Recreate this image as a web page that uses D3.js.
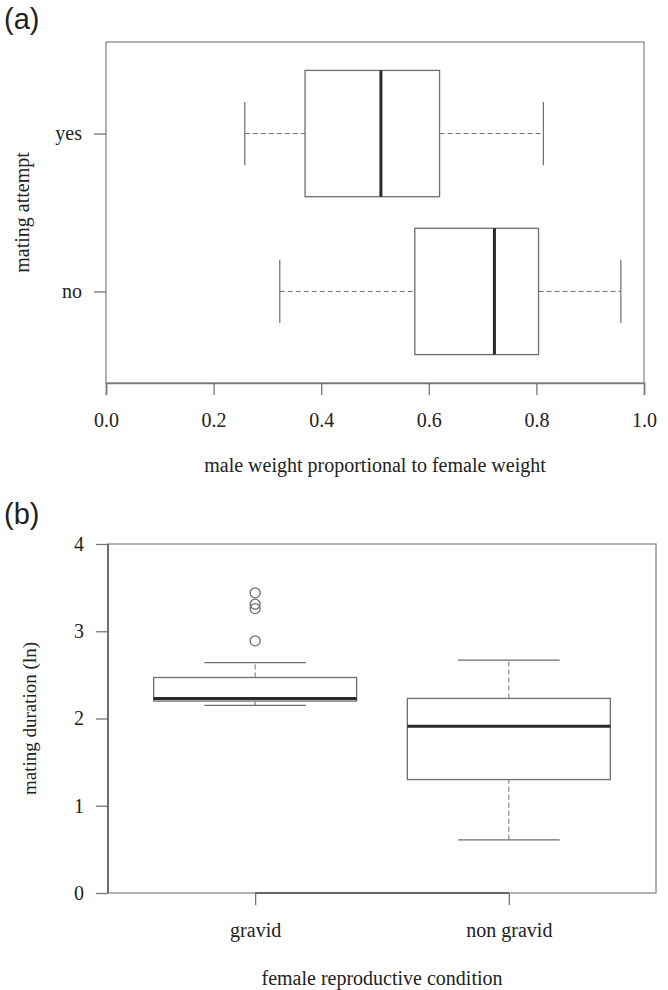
<!DOCTYPE html>
<html>
<head>
<meta charset="utf-8">
<script src="https://cdn.jsdelivr.net/npm/d3@7.9.0/dist/d3.min.js"></script>
<style>
  body { margin: 0; background: #fff; }
  svg text { font-family: "Liberation Serif", "DejaVu Serif", serif; fill: #222; }
  svg text.panel-tag { font-family: "Liberation Sans", Arial, sans-serif; }
</style>
</head>
<body>
<svg id="chart" width="668" height="990"></svg>
<script>
// ---- panel (a): mating attempt vs weight ratio ----
const attemptGroups = ["no", "yes"]; // position 1, 2 (bottom to top)
const attemptLow = [0.323, 0.258];
const attemptQ1 = [0.574, 0.37];
const attemptMedian = [0.722, 0.511];
const attemptQ3 = [0.804, 0.62];
const attemptHigh = [0.957, 0.813];
const weightTicks = [0, 0.2, 0.4, 0.6, 0.8, 1.0];

// ---- panel (b): mating duration vs female condition ----
const conditionGroups = ["gravid", "non gravid"];
const durationLow = [2.15, 0.61];
const durationQ1 = [2.20, 1.30];
const durationMedian = [2.23, 1.91];
const durationQ3 = [2.47, 2.23];
const durationHigh = [2.64, 2.67];
const gravidOutliers = [2.89, 3.26, 3.31, 3.44];
const durationTicks = [0, 1, 2, 3, 4];

const svg = d3.select("#chart");
const frameColor = "#8a8a8a";
const boxColor = "#6e6e6e";
const medianColor = "#2a2a2a";
const fs = 20;
const dash = "5,3";

// R style: groups sit at 1..n, axis padded 4% beyond 0.5..n+0.5
const groupDomain = [0.42, 2.58];

// ========= panel (a) =========
const a = { left: 106, right: 644, top: 42, bottom: 383 };
const xA = d3.scaleLinear().domain([0, 1]).range([a.left, a.right]);
const yA = d3.scaleLinear().domain(groupDomain).range([a.bottom, a.top]);
const gA = svg.append("g");

gA.append("rect")
  .attr("x", a.left).attr("y", a.top)
  .attr("width", a.right - a.left).attr("height", a.bottom - a.top)
  .attr("fill", "none").attr("stroke", frameColor).attr("stroke-width", 1.3);

attemptGroups.forEach((g, i) => {
  const yc = yA(i + 1);
  const half = yA(0) - yA(0.4);   // boxwex 0.8
  const staple = yA(0) - yA(0.2);
  // whiskers
  gA.append("line").attr("x1", xA(attemptLow[i])).attr("x2", xA(attemptQ1[i]))
    .attr("y1", yc).attr("y2", yc)
    .attr("stroke", boxColor).attr("stroke-dasharray", dash);
  gA.append("line").attr("x1", xA(attemptQ3[i])).attr("x2", xA(attemptHigh[i]))
    .attr("y1", yc).attr("y2", yc)
    .attr("stroke", boxColor).attr("stroke-dasharray", dash);
  [attemptLow[i], attemptHigh[i]].forEach((v) => {
    gA.append("line").attr("x1", xA(v)).attr("x2", xA(v))
      .attr("y1", yc - staple).attr("y2", yc + staple)
      .attr("stroke", boxColor).attr("stroke-width", 1.2);
  });
  gA.append("rect")
    .attr("x", xA(attemptQ1[i])).attr("y", yc - half)
    .attr("width", xA(attemptQ3[i]) - xA(attemptQ1[i])).attr("height", 2 * half)
    .attr("fill", "#fff").attr("stroke", boxColor).attr("stroke-width", 1.3);
  gA.append("line").attr("x1", xA(attemptMedian[i])).attr("x2", xA(attemptMedian[i]))
    .attr("y1", yc - half).attr("y2", yc + half)
    .attr("stroke", medianColor).attr("stroke-width", 3);
});

// axes
const axA = gA.append("g").attr("transform", `translate(0,${a.bottom})`)
  .call(d3.axisBottom(xA).tickValues(weightTicks).tickFormat(d3.format(".1f"))
    .tickSize(12).tickPadding(18));
axA.select(".domain").attr("stroke", "#777").attr("stroke-width", 1.6);
axA.selectAll(".tick line").attr("stroke", "#777").attr("stroke-width", 1.3);
axA.selectAll(".tick text").attr("font-size", fs);

const ayA = gA.append("g").attr("transform", `translate(${a.left},0)`)
  .call(d3.axisLeft(yA).tickValues([1, 2]).tickFormat((d) => attemptGroups[d - 1])
    .tickSize(12).tickPadding(12));
ayA.select(".domain").remove();
ayA.selectAll(".tick line").attr("stroke", "#777").attr("stroke-width", 1.3);
ayA.selectAll(".tick text").attr("font-size", fs);

gA.append("text").attr("x", (a.left + a.right) / 2).attr("y", 472)
  .attr("text-anchor", "middle").attr("font-size", fs)
  .text("male weight proportional to female weight");
gA.append("text")
  .attr("transform", `translate(29,${(a.top + a.bottom) / 2}) rotate(-90)`)
  .attr("text-anchor", "middle").attr("font-size", fs)
  .text("mating attempt");
svg.append("text").attr("class", "panel-tag").attr("x", 4).attr("y", 29)
  .attr("font-size", 29).text("(a)");

// ========= panel (b) =========
const b = { left: 108, right: 656, top: 544, bottom: 893 };
const xB = d3.scaleLinear().domain(groupDomain).range([b.left, b.right]);
const yB = d3.scaleLinear().domain([0, 4]).range([b.bottom, b.top]);
const gB = svg.append("g");

gB.append("rect")
  .attr("x", b.left).attr("y", b.top)
  .attr("width", b.right - b.left).attr("height", b.bottom - b.top)
  .attr("fill", "none").attr("stroke", frameColor).attr("stroke-width", 1.3);

conditionGroups.forEach((g, i) => {
  const xc = xB(i + 1);
  const half = xB(0.4) - xB(0);
  const staple = xB(0.2) - xB(0);
  gB.append("line").attr("x1", xc).attr("x2", xc)
    .attr("y1", yB(durationLow[i])).attr("y2", yB(durationQ1[i]))
    .attr("stroke", boxColor).attr("stroke-dasharray", dash);
  gB.append("line").attr("x1", xc).attr("x2", xc)
    .attr("y1", yB(durationQ3[i])).attr("y2", yB(durationHigh[i]))
    .attr("stroke", boxColor).attr("stroke-dasharray", dash);
  [durationLow[i], durationHigh[i]].forEach((v) => {
    gB.append("line").attr("x1", xc - staple).attr("x2", xc + staple)
      .attr("y1", yB(v)).attr("y2", yB(v))
      .attr("stroke", boxColor).attr("stroke-width", 1.2);
  });
  gB.append("rect")
    .attr("x", xc - half).attr("y", yB(durationQ3[i]))
    .attr("width", 2 * half).attr("height", yB(durationQ1[i]) - yB(durationQ3[i]))
    .attr("fill", "#fff").attr("stroke", boxColor).attr("stroke-width", 1.3);
  gB.append("line").attr("x1", xc - half).attr("x2", xc + half)
    .attr("y1", yB(durationMedian[i])).attr("y2", yB(durationMedian[i]))
    .attr("stroke", medianColor).attr("stroke-width", 3);
});

gB.selectAll("circle.out").data(gravidOutliers).join("circle")
  .attr("class", "out")
  .attr("cx", xB(1)).attr("cy", (d) => yB(d)).attr("r", 5)
  .attr("fill", "none").attr("stroke", boxColor).attr("stroke-width", 1.3);

const axB = gB.append("g").attr("transform", `translate(0,${b.bottom})`)
  .call(d3.axisBottom(xB).tickValues([1, 2]).tickFormat((d) => conditionGroups[d - 1])
    .tickSize(12).tickPadding(18));
axB.select(".domain").remove();
axB.append("line").attr("x1", xB(1)).attr("x2", xB(2))
  .attr("stroke", "#666").attr("stroke-width", 1.8);
axB.selectAll(".tick line").attr("stroke", "#777").attr("stroke-width", 1.3);
axB.selectAll(".tick text").attr("font-size", fs);

const ayB = gB.append("g").attr("transform", `translate(${b.left},0)`)
  .call(d3.axisLeft(yB).tickValues(durationTicks).tickFormat(d3.format("d"))
    .tickSize(12).tickPadding(12));
ayB.select(".domain").remove();
ayB.append("line").attr("y1", yB(0)).attr("y2", yB(4))
  .attr("stroke", "#666").attr("stroke-width", 1.8);
ayB.selectAll(".tick line").attr("stroke", "#777").attr("stroke-width", 1.3);
ayB.selectAll(".tick text").attr("font-size", fs);

gB.append("text").attr("x", (b.left + b.right) / 2).attr("y", 985)
  .attr("text-anchor", "middle").attr("font-size", fs)
  .text("female reproductive condition");
gB.append("text")
  .attr("transform", `translate(36,${(b.top + b.bottom) / 2}) rotate(-90)`)
  .attr("text-anchor", "middle").attr("font-size", 19)
  .text("mating duration (ln)");
svg.append("text").attr("class", "panel-tag").attr("x", 4).attr("y", 524)
  .attr("font-size", 29).text("(b)");
</script>
</body>
</html>
